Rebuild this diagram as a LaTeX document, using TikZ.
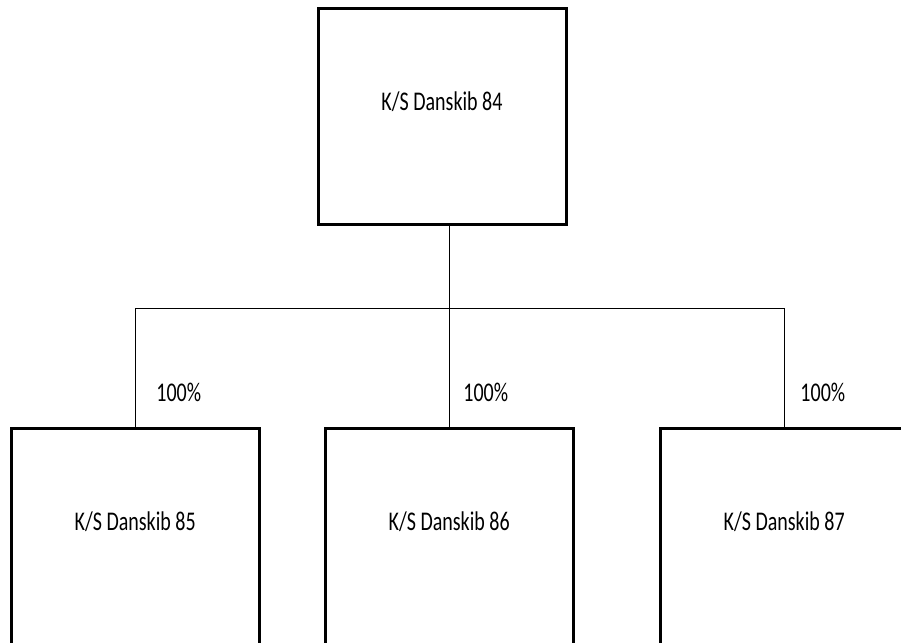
\documentclass[tikz,border=0pt]{standalone}
\usepackage{fontspec}
\setmainfont{Carlito}
\usepackage{graphicx}
\usetikzlibrary{positioning,calc}
\newcommand{\tallText}[1]{\scalebox{1}[1.35]{#1}}
\tikzset{
  entity-box/.style={draw,line width=2.25pt,minimum width=186pt,
    minimum height=162pt,inner sep=0pt,text depth=22.5pt,
    font=\fontsize{15}{18}\selectfont},
  share-label/.style={inner sep=0pt,font=\fontsize{15}{18}\selectfont},
  link/.style={draw,line width=0.75pt},
}
\begin{document}
\begin{tikzpicture}
  \useasboundingbox (0,0) rectangle (675.75pt,482.25pt);
  \clip (0,0) rectangle (675.75pt,482.25pt);
  \node[entity-box] (top) at (331.5pt,394.9pt) {\tallText{K/S Danskib 84}};
  \node[entity-box,below=150.75pt of top,xshift=5.4pt] (kid2) {\tallText{K/S Danskib 86}};
  \node[entity-box,left=47.25pt of kid2] (kid1) {\tallText{K/S Danskib 85}};
  \node[entity-box,right=63pt of kid2] (kid3) {\tallText{K/S Danskib 87}};
  \coordinate (bus) at ($(top.south -| kid2.north)!0.41!(kid2.north)$);
  \draw[link] (top.south -| kid2.north) -- (kid2.north);
  \draw[link] (kid1.north) |- (bus) -| (kid3.north);
  \node[share-label,above right=18.75pt and 15.75pt of kid1.north] (pct1) {\tallText{100\%}};
  \node[share-label,above right=18.75pt and 10.5pt of kid2.north] (pct2) {\tallText{100\%}};
  \node[share-label,above right=18.75pt and 12pt of kid3.north] (pct3) {\tallText{100\%}};
\end{tikzpicture}
\end{document}
